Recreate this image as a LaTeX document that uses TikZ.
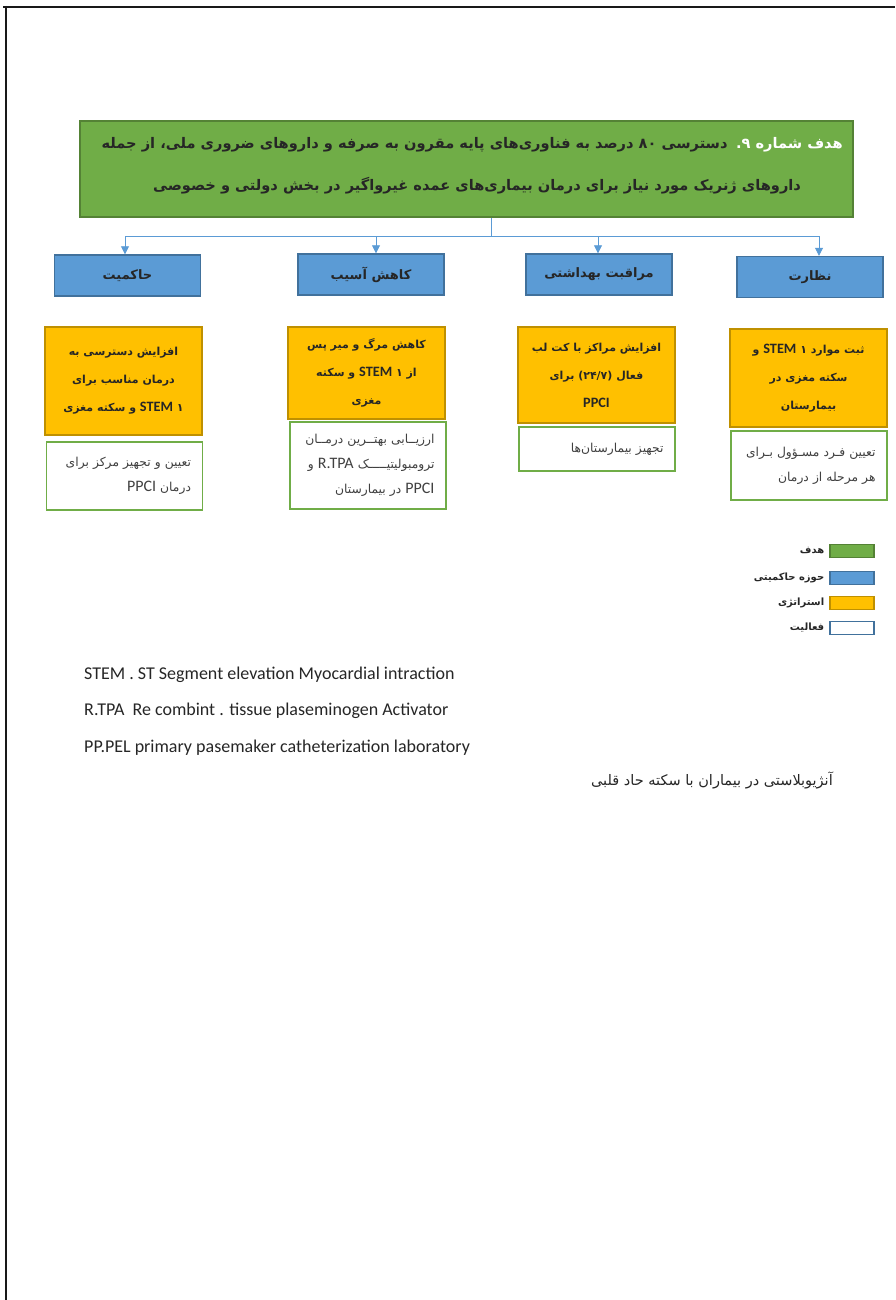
\documentclass[tikz,border=0pt]{standalone}
\usepackage{fontspec}
\setmainfont{Carlito}
\newfontfamily\farsifont[Script=Arabic]{DejaVu Sans}
\newfontfamily\latinfont[Scale=1.3]{Carlito}
\TeXXeTstate=1
\usetikzlibrary{arrows.meta,positioning}

\definecolor{goalgreen}{HTML}{70AD47}
\definecolor{goalborder}{HTML}{548235}
\definecolor{areablue}{HTML}{5B9BD5}
\definecolor{areaborder}{HTML}{41719C}
\definecolor{stratorange}{HTML}{FFC000}
\definecolor{stratborder}{HTML}{BF9000}
\definecolor{actborder}{HTML}{70AD47}
\definecolor{linkblue}{HTML}{5B9BD5}
\definecolor{inktext}{HTML}{262626}

\newcommand\rtlline[1]{\beginR#1\endR}
\newcommand\latin[1]{\beginL{\latinfont #1}\endL{}}
\newcommand\ltrrun[1]{\beginL#1\endL{}}

\tikzset{
  goalbox/.style={draw=goalborder, fill=goalgreen, line width=1.6pt,
    minimum width=773pt, minimum height=96pt},
  goaltext/.style={inner sep=0pt, text=inktext,
    font=\farsifont\bfseries\fontsize{14.6}{17}\selectfont},
  areabox/.style={draw=areaborder, fill=areablue, line width=1.4pt,
    minimum width=146pt, minimum height=41pt, text=inktext,
    font=\farsifont\bfseries\fontsize{13}{15}\selectfont},
  stratbox/.style={draw=stratborder, fill=stratorange, line width=1.4pt,
    minimum width=157pt, align=center, text=inktext,
    font=\farsifont\bfseries\fontsize{11}{28}\selectfont},
  actbox/.style={draw=actborder, fill=white, line width=1.2pt,
    minimum width=156pt, text width=133pt, align=right, text=black!75,
    font=\farsifont\fontsize{12.3}{25}\selectfont},
  link/.style={draw=linkblue, line width=0.8pt},
  droparrow/.style={-{Triangle[width=8pt,length=8pt]}},
  keybox/.style={draw=areaborder, line width=1.2pt, minimum width=44pt,
    minimum height=13pt, inner sep=0pt},
  keytext/.style={left=5pt of #1, inner sep=0pt, text=inktext,
    font=\farsifont\bfseries\fontsize{10}{12}\selectfont},
  note/.style={anchor=west, inner sep=0pt, text=black!85,
    font=\fontsize{18}{20}\selectfont},
  frame/.style={line width=2pt, black!90}
}

\begin{document}
\begin{tikzpicture}[x=1pt,y=-1pt]
  \useasboundingbox (0,0) rectangle (895,1300);
  \draw[frame] (3,7) -- (895,7);
  \draw[frame] (6,6) -- (6,1300);

  % goal
  \node[goalbox] (goal) at (466.5,169) {};
  \node[goaltext, text=white, anchor=east] (goalhead) at (843,145)
    {\rtlline{هدف شماره \mbox{۹}\mbox{.}}};
  \node[goaltext, left=8pt of goalhead] (goalline)
    {\rtlline{دسترسی ۸۰ درصد به فناوری‌های پایه مقرون به صرفه و داروهای ضروری ملی، از جمله}};
  \node[goaltext] (goalcont) at (477,186)
    {\rtlline{داروهای ژنریک مورد نیاز برای درمان بیماری‌های عمده غیرواگیر در بخش دولتی و خصوصی}};

  % governance areas
  \node[areabox] (govern) at (127.5,275.5) {\rtlline{حاکمیت}};
  \node[areabox] (harm) at (371,274.5) {\rtlline{کاهش آسیب}};
  \node[areabox] (care) at (599,274.5) {\rtlline{مراقبت بهداشتی}};
  \node[areabox] (monitor) at (810,277) {\rtlline{نظارت}};

  \draw[link] ([xshift=24.5pt]goal.south) -- ++(0,19) coordinate (bus);
  \draw[link,droparrow] (bus) -| ([xshift=-2.5pt]govern.north);
  \draw[link,droparrow] (bus) -| ([xshift=5pt]harm.north);
  \draw[link,droparrow] (bus) -| ([xshift=-1pt]care.north);
  \draw[link,droparrow] (bus) -| ([xshift=9pt]monitor.north);

  % strategies
  \node[stratbox, minimum height=108pt] (stratgovern) at (123.5,381) {%
    \rtlline{افزایش دسترسی به}\\
    \rtlline{درمان مناسب برای}\\
    \rtlline{۱ \latin{STEM} و سکته مغزی}};
  \node[stratbox, minimum height=92pt] (stratharm) at (366.5,373) {%
    \rtlline{کاهش مرگ و میر پس}\\
    \rtlline{از ۱ \latin{STEM} و سکته}\\
    \rtlline{مغزی}};
  \node[stratbox, minimum height=96pt] (stratcare) at (596.5,375) {%
    \rtlline{افزایش مراکز با کت لب}\\
    \rtlline{فعال \ltrrun{(۲۴/۷)} برای}\\
    \rtlline{\latin{PPCI}}};
  \node[stratbox, minimum height=98pt] (stratmonitor) at (808.5,378) {%
    \rtlline{ثبت موارد ۱ \latin{STEM} و}\\
    \rtlline{سکته مغزی در}\\
    \rtlline{بیمارستان}};

  % activities
  \node[actbox, minimum height=68pt] (actgovern) at (124.5,476) {%
    \rtlline{تعیین و تجهیز مرکز برای}\\
    \rtlline{درمان \latin{PPCI}}};
  \node[actbox, minimum height=87pt] (actharm) at (368,465.5) {%
    \rtlline{ارزیــابی بهتــرین درمــان}\\
    \rtlline{ترومبولیتیـــــک \latin{R.TPA} و}\\
    \rtlline{\latin{PPCI} در بیمارستان}};
  \node[actbox, minimum height=44pt] (actcare) at (597,449) {%
    \rtlline{تجهیز بیمارستان‌ها}};
  \node[actbox, minimum height=69pt] (actmonitor) at (809,465.5) {%
    \rtlline{تعیین فـرد مسـؤول بـرای}\\
    \rtlline{هر مرحله از درمان}};

  % legend
  \node[keybox, draw=goalborder, fill=goalgreen] (keygoal) at (852,551) {};
  \node[keybox, fill=areablue] (keyarea) at (852,578) {};
  \node[keybox, draw=stratborder, fill=stratorange] (keystrat) at (852,603) {};
  \node[keybox, fill=white] (keyact) at (852,628) {};
  \node[keytext=keygoal] (labelgoal) {\rtlline{هدف}};
  \node[keytext=keyarea] (labelarea) {\rtlline{حوزه حاکمیتی}};
  \node[keytext=keystrat] (labelstrat) {\rtlline{استراتژی}};
  \node[keytext=keyact] (labelact) {\rtlline{فعالیت}};

  % abbreviations
  \node[note] (stemnote) at (84,675) {STEM . ST Segment elevation Myocardial intraction};
  \node[note] (rtpanote) at (84,711) {R.TPA\ \ Re combint . tissue plaseminogen Activator};
  \node[note] (ppelnote) at (84,748) {PP.PEL primary pasemaker catheterization laboratory};
  \node[anchor=east, inner sep=0pt, text=black!85,
    font=\farsifont\fontsize{14.5}{16}\selectfont] (angionote) at (833,780)
    {\rtlline{آنژیوبلاستی در بیماران با سکته حاد قلبی}};
\end{tikzpicture}
\end{document}
